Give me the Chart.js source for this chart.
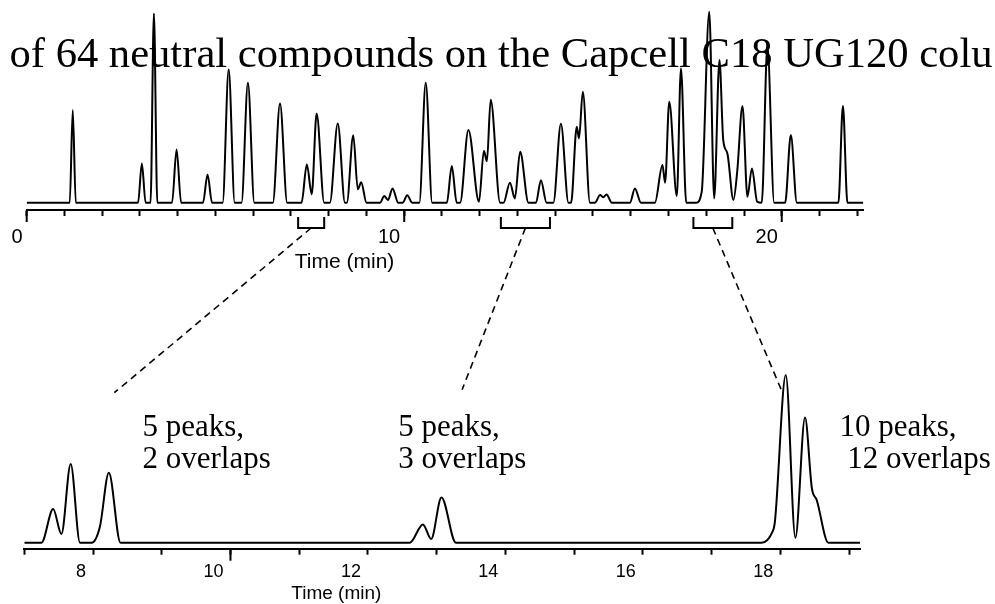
<!DOCTYPE html>
<html><head><meta charset="utf-8">
<script src="https://cdn.jsdelivr.net/npm/chart.js@4.4.1/dist/chart.umd.min.js"></script>
<style>
html,body{margin:0;padding:0;background:#fff;overflow:hidden}
#wrap{position:relative;width:995px;height:604px;background:#fff}
canvas{position:absolute;left:0;top:0}
</style>
</head><body>
<div id="wrap"><canvas id="topc" width="995" height="604"></canvas><canvas id="botc" width="995" height="604"></canvas></div>
<script>
// ---------- data ----------
const titleText = 'of 64 neutral compounds on the Capcell C18 UG120 colu';
const axisTitle = 'Time (min)';

// full chromatogram (time in min, detector signal)
const topTimes = [
  0,
  1.14, 1.22, 1.30,
  2.95, 3.05, 3.15,
  3.28, 3.37, 3.46,
  3.85, 3.97, 4.09,
  4.67, 4.79, 4.91,
  5.19, 5.35, 5.51,
  5.69, 5.86, 6.03,
  6.52, 6.71, 6.90,
  7.28, 7.42, 7.55, 7.68, 7.88,
  8.03, 8.24, 8.43,
  8.48, 8.65, 8.77, 8.86, 9.00,
  9.36, 9.47, 9.57, 9.69, 9.84,
  9.96, 10.08, 10.21,
  10.40, 10.57, 10.74,
  11.13, 11.26, 11.39,
  11.48, 11.70, 11.98, 12.11, 12.19, 12.29, 12.54,
  12.63, 12.80, 12.93, 13.07, 13.29,
  13.49, 13.62, 13.77,
  13.95, 14.15, 14.35,
  14.42, 14.57, 14.63, 14.73, 14.92,
  15.05, 15.19, 15.27, 15.36, 15.50,
  15.98, 16.11, 16.27,
  16.64, 16.84, 16.91, 17.02, 17.22, 17.33, 17.47,
  17.73, 17.88, 18.08, 18.21, 18.35, 18.45, 18.56, 18.72, 18.82, 18.96, 19.09, 19.21, 19.35,
  19.47, 19.62, 19.80,
  20.09, 20.24, 20.40,
  21.50, 21.62, 21.74,
  22.16
];
const topSignal = [
  0,
  0, 92.7, 0,
  0, 39.3, 0,
  0, 189.3, 0,
  0, 53.3, 0,
  0, 28.3, 0,
  0, 133.3, 0,
  0, 120, 0,
  0, 99.3, 0,
  0, 38.3, 8.5, 89.3, 0,
  0, 79.3, 0,
  0, 67.5, 13.3, 20.5, 0,
  0, 6.7, 2.7, 14.3, 0,
  0, 7.5, 0,
  0, 120, 0,
  0, 36.7, 0,
  0, 72.7, 1, 52, 41.5, 103, 0,
  0, 20, 4.3, 51, 0,
  0, 22.5, 0,
  0, 79, 0,
  0, 76, 64.3, 111, 0,
  0, 7.7, 5.5, 8.3, 0,
  0, 14.3, 0,
  0, 37.7, 20, 101, 6.7, 134.3, 0,
  0, 11, 191, 4.3, 142.7, 62.7, 49.3, 2.7, 31, 96.7, 6, 34.3, 1,
  0, 157, 0,
  0, 67.7, 0,
  0, 96.7, 0,
  0
];

// expanded view
const bottomTimes = [
  7.00,
  7.25, 7.42, 7.54, 7.675, 7.81,
  7.98, 8.10, 8.23, 8.40,
  12.61, 12.80, 12.92, 13.07, 13.28,
  17.73, 17.88, 17.92, 18.08, 18.22, 18.36, 18.46, 18.53, 18.70,
  19.16
];
const bottomSignal = [
  0,
  0, 33.7, 8.7, 78.7, 0,
  0, 16, 70, 0,
  0, 18.3, 3.7, 45.3, 0,
  0, 10, 20, 167.7, 5, 125.3, 54.3, 42.7, 0,
  0
];

const topTickLabels = [0, 10, 20];
const bottomTickLabels = [8, 10, 12, 14, 16, 18];
const topMajorTicks = [0, 10, 20];
const bottomMajorTicks = [10];

// zoom windows marked on the full chromatogram
const zoomStart = [7.19, 12.56, 17.66];
const zoomEnd = [7.88, 13.86, 18.69];
// where the dashed leader lines end (in expanded-view units)
const leaderTime = [8.31, 13.37, 18.02];
const leaderLevel = [150, 153, 152];

// notes
const noteLine1 = ['5 peaks,', '5 peaks,', '10 peaks,'];
const noteLine2 = ['2 overlaps', '3 overlaps', ' 12 overlaps'];
const noteTime = [8.72, 12.44, 18.86];

// ---------- drawing ----------
const SANS = '"Liberation Sans", Arial, Helvetica, sans-serif';
const SERIF = '"Liberation Serif", "Times New Roman", serif';
const toPts = (xs, ys) => xs.map((x, i) => ({x, y: ys[i]}));

let topChart = null;

const topDecor = {
  id: 'topDecor',
  beforeDatasetsDraw(chart) {
    const ctx = chart.ctx;
    ctx.save();
    ctx.fillStyle = '#000';
    ctx.font = '42.6px ' + SERIF;
    ctx.textBaseline = 'alphabetic';
    ctx.textAlign = 'left';
    ctx.fillText(titleText, 9.5, 67);
    ctx.restore();
  },
  afterDraw(chart) {
    const ctx = chart.ctx, xs = chart.scales.x, axisY = chart.chartArea.bottom;
    ctx.save();
    ctx.strokeStyle = '#000';
    ctx.lineWidth = 2;
    topMajorTicks.forEach(v => {
      const px = xs.getPixelForValue(v);
      ctx.beginPath(); ctx.moveTo(px, axisY); ctx.lineTo(px, axisY + 12); ctx.stroke();
    });
    zoomStart.forEach((s, i) => {
      const a = xs.getPixelForValue(s), b = xs.getPixelForValue(zoomEnd[i]);
      ctx.beginPath();
      ctx.moveTo(a, axisY + 7); ctx.lineTo(a, axisY + 18);
      ctx.lineTo(b, axisY + 18); ctx.lineTo(b, axisY + 7);
      ctx.stroke();
    });
    ctx.fillStyle = '#000';
    ctx.font = '21px ' + SANS;
    ctx.textAlign = 'center';
    ctx.textBaseline = 'alphabetic';
    ctx.fillText(axisTitle, xs.getPixelForValue(8.42), axisY + 58);
    ctx.restore();
  }
};

const bottomDecor = {
  id: 'bottomDecor',
  afterDraw(chart) {
    const ctx = chart.ctx, xs = chart.scales.x, ys = chart.scales.y, axisY = chart.chartArea.bottom;
    ctx.save();
    ctx.strokeStyle = '#000';
    ctx.lineWidth = 2;
    bottomMajorTicks.forEach(v => {
      const px = xs.getPixelForValue(v);
      ctx.beginPath(); ctx.moveTo(px, axisY); ctx.lineTo(px, axisY + 12); ctx.stroke();
    });
    // leader lines
    if (topChart) {
      const txs = topChart.scales.x, ty = topChart.chartArea.bottom + 18;
      ctx.lineWidth = 1.6;
      ctx.setLineDash([7, 5]);
      zoomStart.forEach((s, i) => {
        const sx = txs.getPixelForValue((s + zoomEnd[i]) / 2);
        ctx.beginPath();
        ctx.moveTo(sx, ty);
        ctx.lineTo(xs.getPixelForValue(leaderTime[i]), ys.getPixelForValue(leaderLevel[i]));
        ctx.stroke();
      });
      ctx.setLineDash([]);
    }
    // notes
    ctx.fillStyle = '#000';
    ctx.font = '31px ' + SERIF;
    ctx.textAlign = 'left';
    ctx.textBaseline = 'alphabetic';
    noteTime.forEach((t, i) => {
      const px = xs.getPixelForValue(t);
      ctx.fillText(noteLine1[i], px, ys.getPixelForValue(107));
      ctx.fillText(noteLine2[i], px, ys.getPixelForValue(75));
    });
    ctx.font = '19px ' + SANS;
    ctx.textAlign = 'center';
    ctx.fillText(axisTitle, xs.getPixelForValue(11.54), axisY + 50);
    ctx.restore();
  }
};

function makeChart(canvas, pts, xmin, xmax, ymin, ymax, pad, tickFont, tickPad, labels, labelOffset, plugin) {
  return new Chart(canvas, {
    type: 'line',
    data: { datasets: [{
      data: pts,
      borderColor: '#000',
      borderWidth: 2,
      pointRadius: 0,
      fill: false,
      cubicInterpolationMode: 'monotone'
    }]},
    options: {
      responsive: false,
      animation: false,
      devicePixelRatio: 1,
      events: [],
      layout: { padding: pad },
      plugins: { legend: { display: false }, tooltip: { enabled: false }, title: { display: false } },
      scales: {
        x: {
          type: 'linear', min: xmin, max: xmax,
          afterFit: (s) => { s.height = 40; },
          border: { display: true, color: '#000', width: 2 },
          grid: { drawOnChartArea: false, drawTicks: true, tickLength: 6, tickWidth: 2, tickColor: '#000' },
          ticks: {
            stepSize: 1, includeBounds: false, autoSkip: false, maxRotation: 0,
            align: 'end', labelOffset: labelOffset, padding: tickPad,
            color: '#000', font: { family: SANS, size: tickFont },
            callback: (v) => labels.includes(v) ? String(v) : ''
          }
        },
        y: { display: false, min: ymin, max: ymax }
      }
    },
    plugins: [plugin]
  });
}

topChart = makeChart(document.getElementById('topc'), toPts(topTimes, topSignal),
  0, 22.16, -7.3, 200,
  { left: 26.7, right: 131.7, top: 2.7, bottom: 354 },
  20, 9, topTickLabels, -4, topDecor);

makeChart(document.getElementById('botc'), toPts(bottomTimes, bottomSignal),
  7, 19.16, -6, 175,
  { left: 24.3, right: 135, top: 367.7, bottom: 15.3 },
  18, 7, bottomTickLabels, -7, bottomDecor);
</script>
</body></html>
